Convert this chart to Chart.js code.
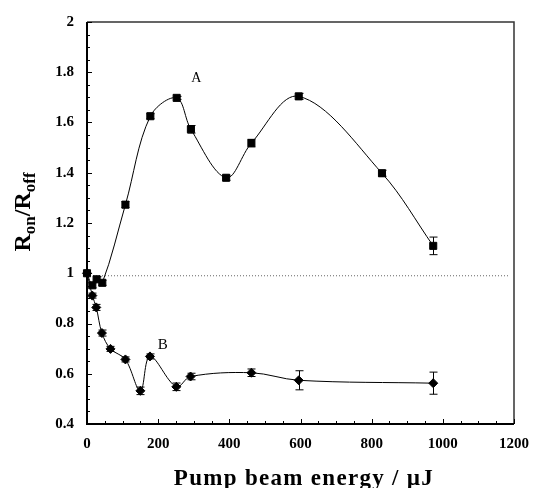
<!DOCTYPE html>
<html>
<head>
<meta charset="utf-8">
<script src="https://cdn.jsdelivr.net/npm/chart.js@4.4.1/dist/chart.umd.min.js"></script>
<style>
    html, body { margin: 0; padding: 0; background: #fff; }
</style>
</head>
<body>
<canvas id="grafico" width="540" height="488"></canvas>
<script>
// Serie A (cuadrados): energía de bombeo (µJ), cociente y error
const energiaA = [0, 15, 27, 43, 108, 178, 252, 292, 391, 462, 595, 829, 973];
const cocienteA = [1.0, 0.952, 0.976, 0.962, 1.273, 1.625, 1.698, 1.573, 1.38, 1.518, 1.704, 1.398, 1.109];
const errorA = [0, 0.01, 0.01, 0.01, 0.012, 0.01, 0.006, 0.015, 0.01, 0.015, 0.012, 0.012, 0.035];

// Serie B (rombos)
const energiaB = [0, 15, 26, 42, 66, 108, 150, 177, 251, 291, 462, 595, 973];
const cocienteB = [1.0, 0.911, 0.864, 0.762, 0.699, 0.657, 0.532, 0.669, 0.548, 0.589, 0.604, 0.574, 0.5625];
const errorB = [0, 0.01, 0.012, 0.012, 0.01, 0.01, 0.015, 0.01, 0.015, 0.013, 0.015, 0.038, 0.044];

// línea punteada de referencia
const energiaRef = [0, 1185];
const cocienteRef = [0.99, 0.99];

// etiquetas de las curvas
const etiquetas = [
    { texto: "A", x: 307, y: 1.775, size: 14 },
    { texto: "B", x: 213, y: 0.713, size: 15 }
];

const ticksX = [0, 200, 400, 600, 800, 1000, 1200];
const ticksY = [0.4, 0.6, 0.8, 1, 1.2, 1.4, 1.6, 1.8, 2];

const fuente = "'Liberation Serif', 'DejaVu Serif', serif";

function aPuntos(xs, ys) {
    return xs.map((x, i) => ({ x: x, y: ys[i] }));
}

const barrasError = {
    id: "barrasError",
    afterDatasetsDraw(chart) {
        const { ctx, scales: { x, y } } = chart;
        ctx.save();
        ctx.strokeStyle = "#000";
        ctx.lineWidth = 1;
        [[energiaA, cocienteA, errorA], [energiaB, cocienteB, errorB]].forEach(([xs, ys, es]) => {
            xs.forEach((e, i) => {
                if (!es[i]) return;
                const px = Math.round(x.getPixelForValue(e)) + 0.5;
                const y1 = y.getPixelForValue(ys[i] + es[i]);
                const y2 = y.getPixelForValue(ys[i] - es[i]);
                ctx.beginPath();
                ctx.moveTo(px, y1);
                ctx.lineTo(px, y2);
                ctx.moveTo(px - 4, y1);
                ctx.lineTo(px + 4, y1);
                ctx.moveTo(px - 4, y2);
                ctx.lineTo(px + 4, y2);
                ctx.stroke();
            });
        });
        ctx.restore();
    }
};

const marcoYTextos = {
    id: "marcoYTextos",
    afterDraw(chart) {
        const { ctx, chartArea: a, scales: { x, y } } = chart;
        ctx.save();

        // marco
        ctx.strokeStyle = "#333";
        ctx.lineWidth = 1.5;
        ctx.beginPath();
        ctx.moveTo(a.left, a.top);
        ctx.lineTo(a.right, a.top);
        ctx.lineTo(a.right, a.bottom);
        ctx.stroke();
        ctx.strokeStyle = "#000";
        ctx.lineWidth = 2;
        ctx.beginPath();
        ctx.moveTo(a.left, a.top);
        ctx.lineTo(a.left, a.bottom);
        ctx.lineTo(a.right, a.bottom);
        ctx.stroke();

        // marcas hacia adentro
        ctx.lineWidth = 1;
        ctx.beginPath();
        for (let v = 0; v <= 1200; v += 50) {
            const px = Math.round(x.getPixelForValue(v)) + 0.5;
            const largo = v % 200 === 0 ? 5 : 3;
            ctx.moveTo(px, a.bottom);
            ctx.lineTo(px, a.bottom - largo);
        }
        for (let k = 8; k <= 40; k++) {
            const py = Math.round(y.getPixelForValue(k * 0.05)) + 0.5;
            const largo = k % 4 === 0 ? 5 : 3;
            ctx.moveTo(a.left, py);
            ctx.lineTo(a.left + largo, py);
        }
        ctx.stroke();

        // etiquetas A y B
        ctx.fillStyle = "#000";
        ctx.textAlign = "center";
        ctx.textBaseline = "middle";
        etiquetas.forEach(et => {
            ctx.font = et.size + "px " + fuente;
            ctx.fillText(et.texto, x.getPixelForValue(et.x), y.getPixelForValue(et.y));
        });

        // título del eje x
        ctx.font = "bold 23px " + fuente;
        ctx.textBaseline = "alphabetic";
        const tituloX = "Pump beam energy / \u00b5J";
        const anchoBase = ctx.measureText(tituloX).width;
        ctx.letterSpacing = Math.max(0, (259 - anchoBase) / (tituloX.length - 1)).toFixed(2) + "px";
        ctx.textAlign = "left";
        const anchoX = ctx.measureText(tituloX).width;
        ctx.fillText(tituloX, 304 - anchoX / 2, 485);
        ctx.letterSpacing = "0px";

        // título del eje y con subíndices
        const partes = [
            { t: "R", f: "bold 24px " + fuente, dy: 0 },
            { t: "on", f: "bold 17px " + fuente, dy: 5 },
            { t: "/R", f: "bold 24px " + fuente, dy: 0 },
            { t: "off", f: "bold 17px " + fuente, dy: 5 }
        ];
        let total = 0;
        partes.forEach(p => {
            ctx.font = p.f;
            p.w = ctx.measureText(p.t).width;
            total += p.w;
        });
        ctx.translate(30, 212);
        ctx.rotate(-Math.PI / 2);
        let u = -total / 2;
        partes.forEach(p => {
            ctx.font = p.f;
            ctx.fillText(p.t, u, p.dy);
            u += p.w;
        });

        ctx.restore();
    }
};

new Chart(document.getElementById("grafico"), {
    type: "line",
    data: {
        datasets: [
            {
                label: "A",
                data: aPuntos(energiaA, cocienteA),
                borderColor: "#000",
                borderWidth: 1,
                pointStyle: "rect",
                pointRadius: 5,
                pointBackgroundColor: "#000",
                pointBorderColor: "#000",
                tension: 0.35,
                clip: false
            },
            {
                label: "B",
                data: aPuntos(energiaB, cocienteB),
                borderColor: "#000",
                borderWidth: 1,
                pointStyle: "rectRot",
                pointRadius: 4.5,
                pointBackgroundColor: "#000",
                pointBorderColor: "#000",
                tension: 0.35,
                clip: false
            },
            {
                label: "ref",
                data: aPuntos(energiaRef, cocienteRef),
                borderColor: "#666",
                borderWidth: 1,
                borderDash: [1, 2],
                pointRadius: 0,
                tension: 0
            }
        ]
    },
    options: {
        responsive: false,
        animation: false,
        devicePixelRatio: 1,
        layout: { padding: { top: 15, right: 23, left: 0, bottom: 0 } },
        plugins: {
            legend: { display: false },
            tooltip: { enabled: false }
        },
        scales: {
            x: {
                type: "linear",
                min: 0,
                max: 1200,
                afterBuildTicks: s => { s.ticks = ticksX.map(v => ({ value: v })); },
                afterFit: s => { s.height = 64; },
                grid: { display: false, drawTicks: false },
                border: { display: false },
                ticks: {
                    color: "#000",
                    padding: 11,
                    maxRotation: 0,
                    font: { family: fuente, size: 15, weight: "bold" },
                    callback: v => String(v)
                }
            },
            y: {
                type: "linear",
                min: 0.4,
                max: 2,
                afterBuildTicks: s => { s.ticks = ticksY.map(v => ({ value: v })); },
                afterFit: s => { s.width = 87; },
                grid: { display: false, drawTicks: false },
                border: { display: false },
                ticks: {
                    color: "#000",
                    padding: 13,
                    font: { family: fuente, size: 15, weight: "bold" },
                    callback: v => String(Number(v.toFixed(1)))
                }
            }
        }
    },
    plugins: [barrasError, marcoYTextos]
});
</script>
</body>
</html>
